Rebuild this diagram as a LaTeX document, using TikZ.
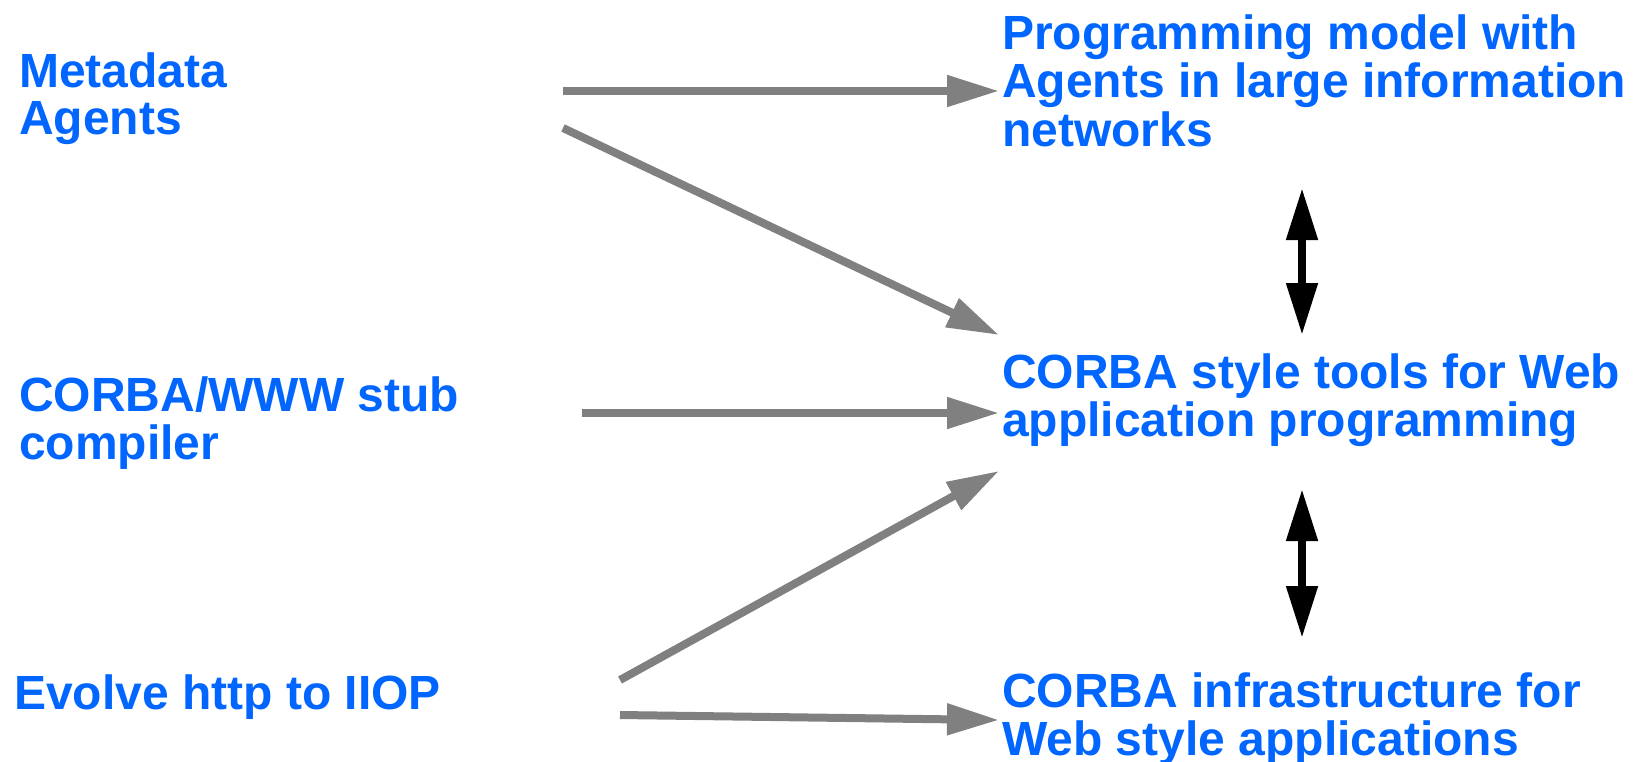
\documentclass[tikz,border=0pt]{standalone}
\usepackage{fontspec}
\setmainfont{Liberation Sans}
\usetikzlibrary{arrows.meta}
\definecolor{txtblue}{RGB}{0,102,255}
\definecolor{arrgray}{RGB}{128,128,128}
\tikzset{
  lbl/.style={anchor=base west, inner sep=0pt, text=txtblue,
    font=\fontsize{48}{47}\selectfont\bfseries},
  grayarrow/.style={draw=arrgray, line width=8pt, -{Triangle[length=52pt,width=30pt]}},
  dblarrow/.style={draw=black, line width=8pt, {Triangle[length=52pt,width=30pt]}-{Triangle[length=52pt,width=30pt]}}
}
\newcommand{\lines}[1]{\begin{tabular}[t]{@{}l@{}}#1\end{tabular}}
\begin{document}
\begin{tikzpicture}[x=1pt,y=-1pt]
\useasboundingbox (0,0) rectangle (1640,761);
\renewcommand{\arraystretch}{1}
% labels
\node[lbl] (meta) at (19,87) {\lines{Metadata\\Agents}};
\node[lbl] (stub) at (19,411) {\lines{CORBA/WWW stub\\compiler}};
\node[lbl] (evolve) at (14,709) {Evolve http to IIOP};
\node[lbl] (prog) at (1002,49) {\lines{Programming model with\\Agents in large information\\networks}};
\node[lbl] (tools) at (1002,388) {\lines{CORBA style tools for Web\\application programming}};
\node[lbl] (infra) at (1002,707) {\lines{CORBA infrastructure for\\Web style applications}};
% connector end points
\coordinate (m1) at (563,91);
\coordinate (m2) at (563,128);
\coordinate (s1) at (582,413);
\coordinate (e1) at (620,680);
\coordinate (e2) at (620,715);
\coordinate (p1) at (999,91);
\coordinate (t1) at (999,335);
\coordinate (t2) at (999,413);
\coordinate (t3) at (999,471);
\coordinate (i1) at (999,720);
\coordinate (pd) at (1302,188);
\coordinate (tu) at (1302,335);
\coordinate (td) at (1302,489);
\coordinate (iu) at (1302,638);
% arrows
\draw[grayarrow] (m1) -- (p1);
\draw[grayarrow] (m2) -- (t1);
\draw[grayarrow] (s1) -- (t2);
\draw[grayarrow] (e1) -- (t3);
\draw[grayarrow] (e2) -- (i1);
\draw[dblarrow] (pd) -- (tu);
\draw[dblarrow] (td) -- (iu);
\end{tikzpicture}
\end{document}
